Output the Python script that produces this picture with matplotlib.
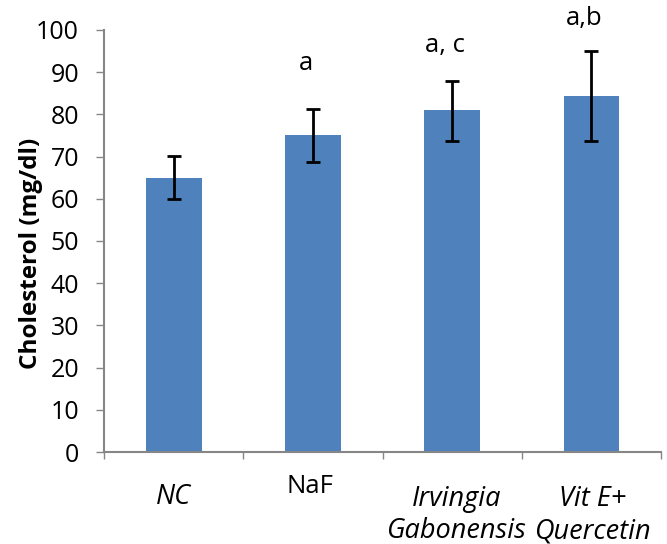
import numpy as np
import matplotlib.pyplot as plt

plt.rcParams['font.family'] = ['Open Sans', 'DejaVu Sans']

# data
groups = ["NC", "NaF", "Irvingia\nGabonensis", "Vit E+\nQuercetin"]
italic = [True, False, True, True]
means = [65.0, 75.0, 81.0, 84.3]
err_low = [5.0, 6.3, 7.2, 10.5]
err_high = [5.1, 6.2, 7.0, 10.7]
letters = ["", "a", "a, c", "a,b"]

bar_color = "#4F81BD"
axis_color = "#868686"

fig = plt.figure(figsize=(6.67, 5.44), dpi=100)
ax = fig.add_axes([0.156, 0.169, 0.835, 0.776])

x = np.arange(len(groups))
ax.bar(x, means, width=0.40, color=bar_color, zorder=2)
ax.errorbar(x, means, yerr=[err_low, err_high], fmt='none', ecolor='black',
            elinewidth=2, capsize=5, capthick=2, zorder=3)

# significance letters
letter_y = [0, 92.0, 96.4, 102.8]
for xi, txt, ly in zip(x, letters, letter_y):
    if txt:
        ax.text(xi - 0.05, ly, txt, ha='center', va='center', fontsize=18.5,
                clip_on=False)

ax.set_xlim(-0.5, len(groups) - 0.5)
ax.set_ylim(0, 100)
ax.set_yticks(np.arange(0, 101, 10))
ax.tick_params(axis='y', labelsize=18, length=6, color=axis_color,
               width=1, pad=12)

# category boundaries as ticks, labels placed by hand
ax.set_xticks(np.arange(-0.5, len(groups), 1.0))
ax.set_xticklabels([])
ax.tick_params(axis='x', length=5, color=axis_color, width=1)

label_y = [-10.7, -8.1, -14.9, -14.9]
label_dx = [0, -0.02, 0.03, 0.01]
for xi, lab, it, ly, dx in zip(x, groups, italic, label_y, label_dx):
    ax.text(xi + dx, ly, lab, ha='center', va='center',
            fontsize=19.5 if it else 18.5,
            style='italic' if it else 'normal', linespacing=1.22,
            clip_on=False)

for s in ['top', 'right']:
    ax.spines[s].set_visible(False)
for s in ['left', 'bottom']:
    ax.spines[s].set_color(axis_color)
    ax.spines[s].set_linewidth(1.5)

ax.set_ylabel("Cholesterol (mg/dl)", fontsize=17.5, fontweight='bold')
ax.yaxis.set_label_coords(-0.11, 0.47)

fig.savefig("out.png", dpi=100)
